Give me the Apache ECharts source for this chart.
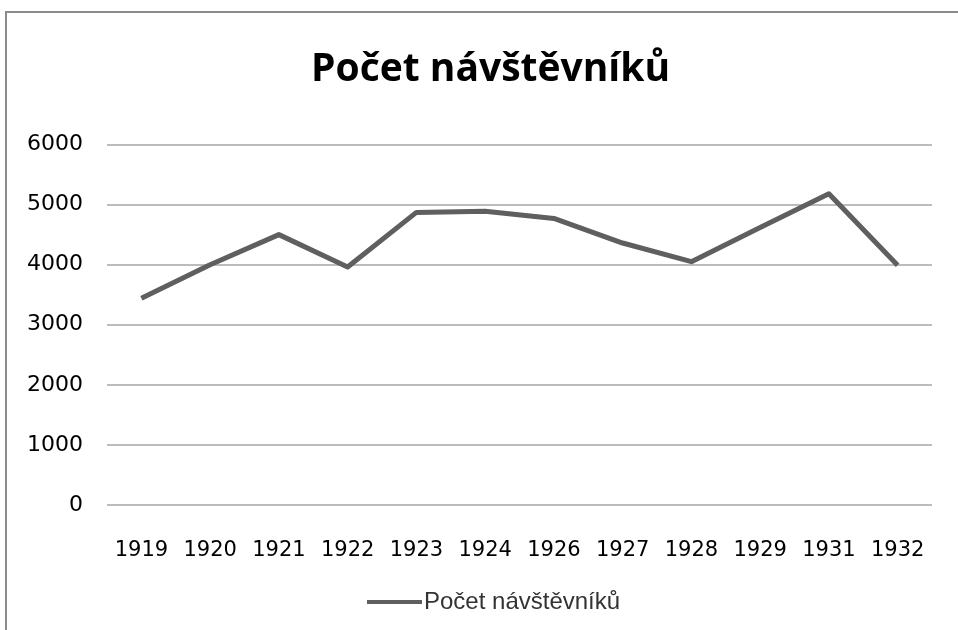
<!DOCTYPE html>
<html>
<head>
<meta charset="utf-8">
<script src="https://cdn.jsdelivr.net/npm/echarts@6/dist/echarts.min.js"></script>
<style>
    body { margin: 0; background: #fff; }
    #frame { position: absolute; left: 5px; top: 11px; width: 960px; height: 630px;
             border-left: 2px solid #8c8c8c; border-top: 2px solid #8c8c8c; }
    #chart { position: absolute; left: 0; top: 0; width: 958px; height: 630px; }
</style>
</head>
<body>
<div id="frame"></div>
<div id="chart"></div>
<script>
var title = "Počet návštěvníků";
var years = ["1919", "1920", "1921", "1922", "1923", "1924", "1926", "1927", "1928", "1929", "1931", "1932"];
var visitors = [3440, 4000, 4500, 3960, 4870, 4890, 4770, 4360, 4050, 4620, 5180, 3990];

var myChart = echarts.init(document.getElementById("chart"));
var opt = {
    animation: false,
    title: {
        text: title,
        left: 306,
        top: 45,
        textStyle: { fontFamily: "Open Sans", fontWeight: "bold", fontSize: 39, color: "#000" }
    },
    grid: { left: 107, right: 26, top: 144.5, bottom: 125 },
    legend: {
        data: [title],
        left: 362,
        top: 585,
        icon: "rect",
        itemWidth: 55,
        itemHeight: 4,
        itemGap: 4,
        textStyle: { fontFamily: "Liberation Sans", fontSize: 24, color: "#333", padding: [0, 0, 0, -3] }
    },
    xAxis: {
        type: "category",
        data: years,
        boundaryGap: true,
        axisLine: { show: false },
        axisTick: { show: false },
        axisLabel: { interval: 0, margin: 35, fontFamily: "DejaVu Sans", fontSize: 21, color: "#000" }
    },
    yAxis: {
        type: "value",
        min: 0,
        max: 6000,
        interval: 1000,
        axisLine: { show: false },
        axisTick: { show: false },
        splitLine: { lineStyle: { color: "#a6a6a6", width: 1.5 } },
        axisLabel: {
            margin: 24, fontFamily: "DejaVu Sans", fontSize: 22, color: "#000",
            formatter: function (v) { return String(v); }
        }
    },
    series: [{
        name: title,
        type: "line",
        data: visitors,
        showSymbol: false,
        symbol: "none",
        lineStyle: { color: "#5f5f5f", width: 5, join: "round" },
        itemStyle: { color: "#5f5f5f" }
    }]
};
myChart.setOption(opt);
</script>
</body>
</html>
